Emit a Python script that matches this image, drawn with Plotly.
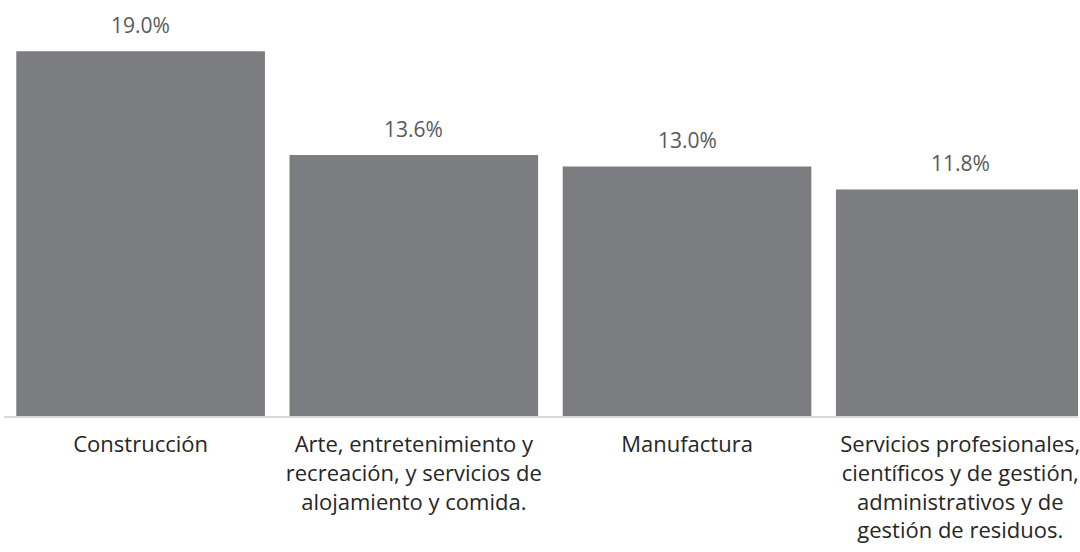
import plotly.graph_objects as go

categories = [
    "Construcción",
    "Arte, entretenimiento y<br>recreación, y servicios de<br>alojamiento y comida.",
    "Manufactura",
    "Servicios profesionales,<br>científicos y de gestión,<br>administrativos y de<br>gestión de residuos.",
]
values = [19.0, 13.6, 13.0, 11.8]
value_labels = ["19.0%", "13.6%", "13.0%", "11.8%"]

FONT = "Open Sans"
BAR_COLOR = "#7c7d80"

fig = go.Figure(
    go.Bar(
        x=list(range(len(categories))),
        y=values,
        marker=dict(color=BAR_COLOR, line=dict(width=0)),
        hoverinfo="skip",
    )
)

# value labels floating above each bar
for i, (v, lbl) in enumerate(zip(values, value_labels)):
    fig.add_annotation(
        x=i, y=v, text=lbl, showarrow=False,
        yanchor="bottom", yshift=10,
        font=dict(family=FONT, size=21, color="#595959"),
    )

fig.update_layout(
    width=1080, height=552,
    margin=dict(l=4, r=0, t=0, b=136),
    paper_bgcolor="white", plot_bgcolor="white",
    bargap=0.09,
    showlegend=False,
    xaxis=dict(
        range=[-0.5, 3.431],
        tickmode="array",
        tickvals=list(range(len(categories))),
        ticktext=categories,
        tickfont=dict(family=FONT, size=22, color="#262626"),
        ticklabeloverflow="allow",
        showline=True, linecolor="#d9d9d9", linewidth=2,
        showgrid=False, zeroline=False,
        ticks="outside", ticklen=8, tickcolor="rgba(0,0,0,0)",
        fixedrange=True,
    ),
    yaxis=dict(
        range=[0, 21.67],
        visible=False,
        showgrid=False, zeroline=False,
        fixedrange=True,
    ),
)

fig.write_html("out.html", config={"displayModeBar": False})
